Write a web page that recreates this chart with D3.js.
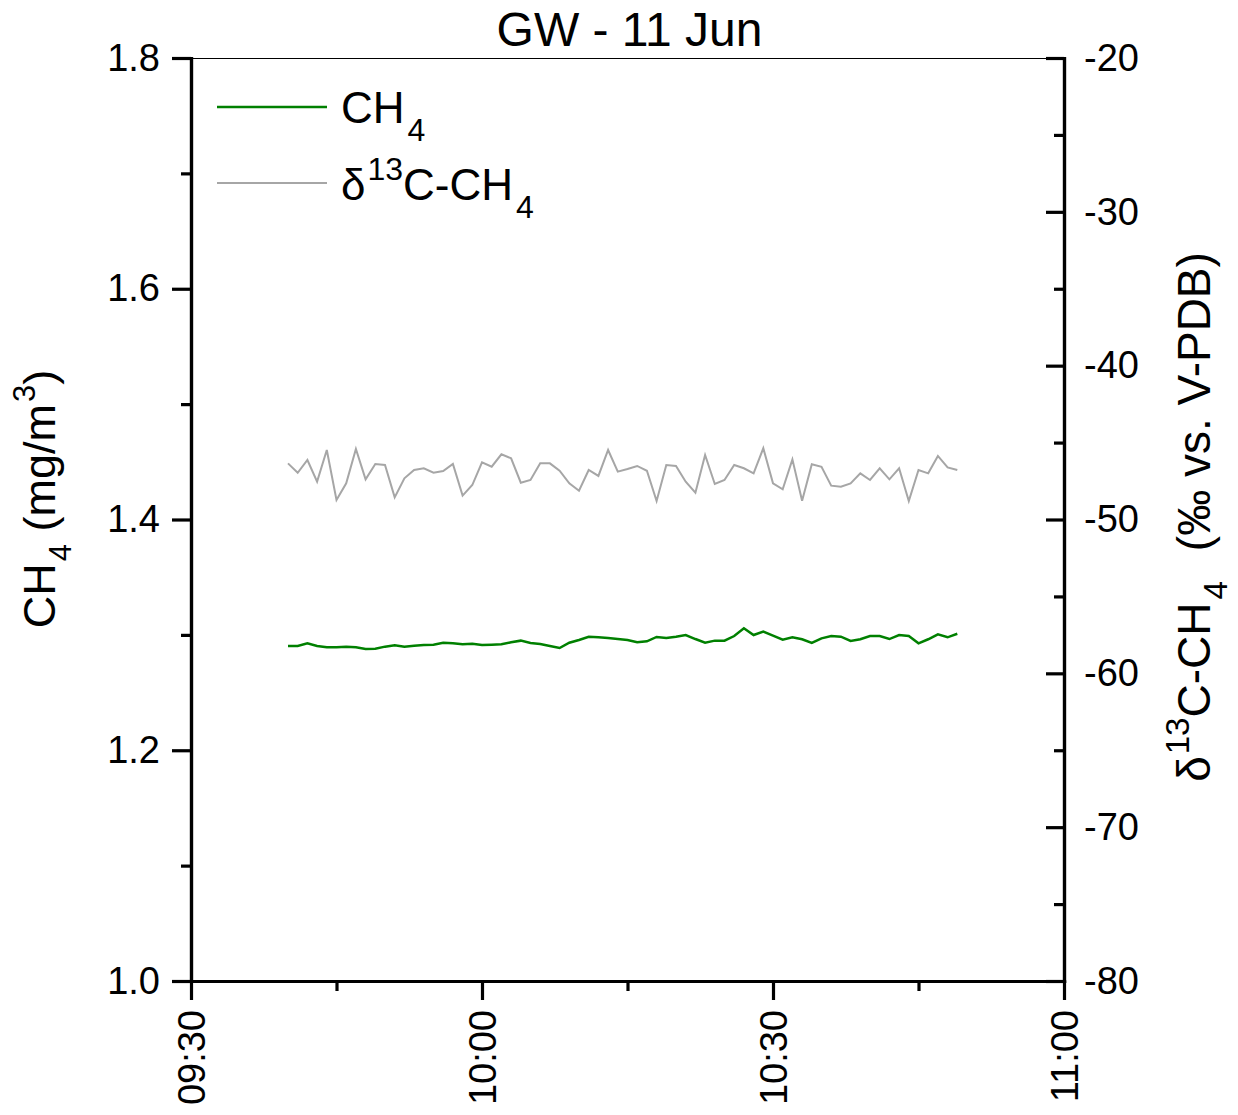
<!DOCTYPE html>
<html lang="en">
<head>
    <meta charset="UTF-8">
    <title>GW - 11 Jun</title>
    <script src="https://d3js.org/d3.v7.min.js"></script>
    <style>
        body { margin: 0; background: #fff; }
        svg text { font-family: "Liberation Sans", Arial, sans-serif; fill: #000; }
    </style>
</head>
<body>
    <div id="my_dataviz"></div>

    <script>
    // sampling times (one reading per minute)
    var times = ["09:40","09:41","09:42","09:43","09:44","09:45","09:46","09:47","09:48","09:49",
                 "09:50","09:51","09:52","09:53","09:54","09:55","09:56","09:57","09:58","09:59",
                 "10:00","10:01","10:02","10:03","10:04","10:05","10:06","10:07","10:08","10:09",
                 "10:10","10:11","10:12","10:13","10:14","10:15","10:16","10:17","10:18","10:19",
                 "10:20","10:21","10:22","10:23","10:24","10:25","10:26","10:27","10:28","10:29",
                 "10:30","10:31","10:32","10:33","10:34","10:35","10:36","10:37","10:38","10:39",
                 "10:40","10:41","10:42","10:43","10:44","10:45","10:46","10:47","10:48","10:49"];

    // CH4 (mg/m3)
    var ch4 = [1.2904,1.2904,1.2927,1.2904,1.2892,1.2892,1.2898,1.2892,1.2878,1.2880,
               1.2898,1.2910,1.2898,1.2906,1.2912,1.2915,1.2932,1.2927,1.2918,1.2923,
               1.2912,1.2915,1.2918,1.2936,1.2950,1.2930,1.2921,1.2904,1.2886,1.2932,
               1.2956,1.2984,1.2979,1.2973,1.2964,1.2956,1.2936,1.2944,1.2982,1.2973,
               1.2984,1.2999,1.2964,1.2932,1.2950,1.2950,1.2990,1.3057,1.2999,1.3028,
               1.2993,1.2958,1.2979,1.2962,1.2930,1.2970,1.2990,1.2984,1.2947,1.2962,
               1.2990,1.2990,1.2964,1.2999,1.2990,1.2927,1.2962,1.3005,1.2979,1.3010];

    // d13C-CH4 (permil vs. V-PDB)
    var d13c = [-46.35,-46.96,-46.13,-47.54,-45.48,-48.73,-47.65,-45.42,-47.39,-46.39,
                -46.46,-48.56,-47.32,-46.78,-46.67,-46.96,-46.85,-46.39,-48.45,-47.76,
                -46.28,-46.57,-45.76,-46.02,-47.61,-47.43,-46.35,-46.35,-46.83,-47.65,
                -48.13,-46.78,-47.17,-45.48,-46.89,-46.72,-46.52,-46.83,-48.80,-46.46,
                -46.52,-47.54,-48.26,-45.81,-47.69,-47.43,-46.46,-46.67,-47.00,-45.37,
                -47.65,-48.04,-46.09,-48.78,-46.41,-46.57,-47.80,-47.87,-47.65,-47.00,
                -47.43,-46.67,-47.39,-46.67,-48.80,-46.78,-47.00,-45.87,-46.61,-46.78];

    var xTicks = ["09:30","10:00","10:30","11:00"];
    var xMinor = ["09:45","10:15","10:45"];
    var leftTicks = [1.0, 1.2, 1.4, 1.6, 1.8];
    var leftMinor = [1.1, 1.3, 1.5, 1.7];
    var rightTicks = [-80, -70, -60, -50, -40, -30, -20];
    var rightMinor = [-75, -65, -55, -45, -35, -25];

    var W = 1238, H = 1115;
    var margin = {top: 58, right: 174, bottom: 134, left: 191};
    var width = W - margin.left - margin.right,
        height = H - margin.top - margin.bottom;

    var parseTime = d3.timeParse("%H:%M");
    var fmt = d3.timeFormat("%H:%M");

    var svg = d3.select("#my_dataviz")
        .append("svg")
            .attr("width", W)
            .attr("height", H)
        .append("g")
            .attr("transform", "translate(" + margin.left + "," + margin.top + ")");

    var x = d3.scaleTime()
        .domain([parseTime("09:30"), parseTime("11:00")])
        .range([0, width]);
    var yL = d3.scaleLinear().domain([1.0, 1.8]).range([height, 0]);
    var yR = d3.scaleLinear().domain([-80, -20]).range([height, 0]);

    // thin top border
    svg.append("line")
        .attr("x1", 0).attr("x2", width)
        .attr("y1", 0.5).attr("y2", 0.5)
        .attr("stroke", "#000").attr("stroke-width", 1.2);

    function styleAxis(g) {
        g.select(".domain").attr("stroke-width", 3.2).attr("stroke-linecap", "square");
        g.selectAll(".tick line").attr("stroke-width", 3.2);
        g.selectAll(".tick text").style("font-size", "38px");
    }

    // left axis
    svg.append("g")
        .call(d3.axisLeft(yL).tickValues(leftMinor).tickSize(10).tickFormat("").tickSizeOuter(0))
        .call(styleAxis);
    svg.append("g")
        .call(d3.axisLeft(yL).tickValues(leftTicks).tickSize(19).tickPadding(12)
            .tickFormat(d3.format(".1f")).tickSizeOuter(0))
        .call(styleAxis);

    // right axis (ticks point inward)
    svg.append("g")
        .attr("transform", "translate(" + width + ",0)")
        .call(d3.axisRight(yR).tickValues(rightMinor).tickSize(-10).tickFormat("").tickSizeOuter(0))
        .call(styleAxis);
    svg.append("g")
        .attr("transform", "translate(" + width + ",0)")
        .call(d3.axisRight(yR).tickValues(rightTicks).tickSize(-18).tickPadding(20)
            .tickFormat(function(d) { return String(d); }).tickSizeOuter(0))
        .call(styleAxis);

    // bottom axis
    svg.append("g")
        .attr("transform", "translate(0," + height + ")")
        .call(d3.axisBottom(x).tickValues(xMinor.map(parseTime)).tickSize(10).tickFormat("").tickSizeOuter(0))
        .call(styleAxis);
    var xAxis = svg.append("g")
        .attr("transform", "translate(0," + height + ")")
        .call(d3.axisBottom(x).tickValues(xTicks.map(parseTime)).tickSize(19).tickFormat(fmt).tickSizeOuter(0))
        .call(styleAxis);
    xAxis.selectAll(".tick text")
        .attr("transform", "rotate(-90)")
        .attr("text-anchor", "end")
        .attr("x", -29)
        .attr("y", 0)
        .attr("dy", "0.35em");

    // series
    var data = times.map(function(t, i) {
        return {t: parseTime(t), ch4: ch4[i], d13c: d13c[i]};
    });

    svg.append("path")
        .datum(data)
        .attr("fill", "none")
        .attr("stroke", "#a6a6a6")
        .attr("stroke-width", 2)
        .attr("d", d3.line().x(function(d) { return x(d.t); }).y(function(d) { return yR(d.d13c); }));

    svg.append("path")
        .datum(data)
        .attr("fill", "none")
        .attr("stroke", "#008000")
        .attr("stroke-width", 2.5)
        .attr("d", d3.line().x(function(d) { return x(d.t); }).y(function(d) { return yL(d.ch4); }));

    // title
    svg.append("text")
        .attr("x", width / 2 + 2)
        .attr("y", 46 - margin.top)
        .attr("text-anchor", "middle")
        .style("font-size", "48px")
        .text("GW - 11 Jun");

    // legend
    var leg = svg.append("g").attr("transform", "translate(" + (217 - margin.left) + "," + (107 - margin.top) + ")");
    leg.append("line").attr("x1", 0).attr("x2", 110).attr("y1", 0).attr("y2", 0)
        .attr("stroke", "#008000").attr("stroke-width", 2.5);
    leg.append("line").attr("x1", 0).attr("x2", 110).attr("y1", 76).attr("y2", 76)
        .attr("stroke", "#a6a6a6").attr("stroke-width", 2);

    var t1 = leg.append("text").attr("x", 124).attr("y", 16).style("font-size", "44px");
    t1.append("tspan").text("CH");
    t1.append("tspan").attr("dx", 3).attr("dy", 18).style("font-size", "32px").text("4");

    var t2 = leg.append("text").attr("x", 124).attr("y", 93).style("font-size", "44px");
    t2.append("tspan").text("\u03b4");
    t2.append("tspan").attr("dx", 2).attr("dy", -20).style("font-size", "32px").text("13");
    t2.append("tspan").attr("dy", 20).text("C-CH");
    t2.append("tspan").attr("dx", 3).attr("dy", 18).style("font-size", "32px").text("4");

    // left axis title
    var lt = svg.append("text")
        .attr("transform", "translate(" + (55 - margin.left) + "," + (499 - margin.top) + ") rotate(-90)")
        .attr("text-anchor", "middle")
        .style("font-size", "45px");
    lt.append("tspan").text("CH");
    lt.append("tspan").attr("dx", 2).attr("dy", 16).style("font-size", "31px").text("4");
    lt.append("tspan").attr("dy", -16).text(" (mg/m");
    lt.append("tspan").attr("dx", 2).attr("dy", -20).style("font-size", "31px").text("3");
    lt.append("tspan").attr("dy", 20).text(")");

    // right axis title
    var rt = svg.append("text")
        .attr("transform", "translate(" + (1210 - margin.left) + "," + (517 - margin.top) + ") rotate(-90)")
        .attr("text-anchor", "middle")
        .style("font-size", "46px");
    rt.append("tspan").text("\u03b4");
    rt.append("tspan").attr("dx", 2).attr("dy", -21).style("font-size", "33px").text("13");
    rt.append("tspan").attr("dy", 21).text("C-CH");
    rt.append("tspan").attr("dx", 3).attr("dy", 17).style("font-size", "33px").text("4");
    rt.append("tspan").attr("dx", 30).attr("dy", -17).text("(\u2030 vs. V-PDB)");
    </script>
</body>
</html>
